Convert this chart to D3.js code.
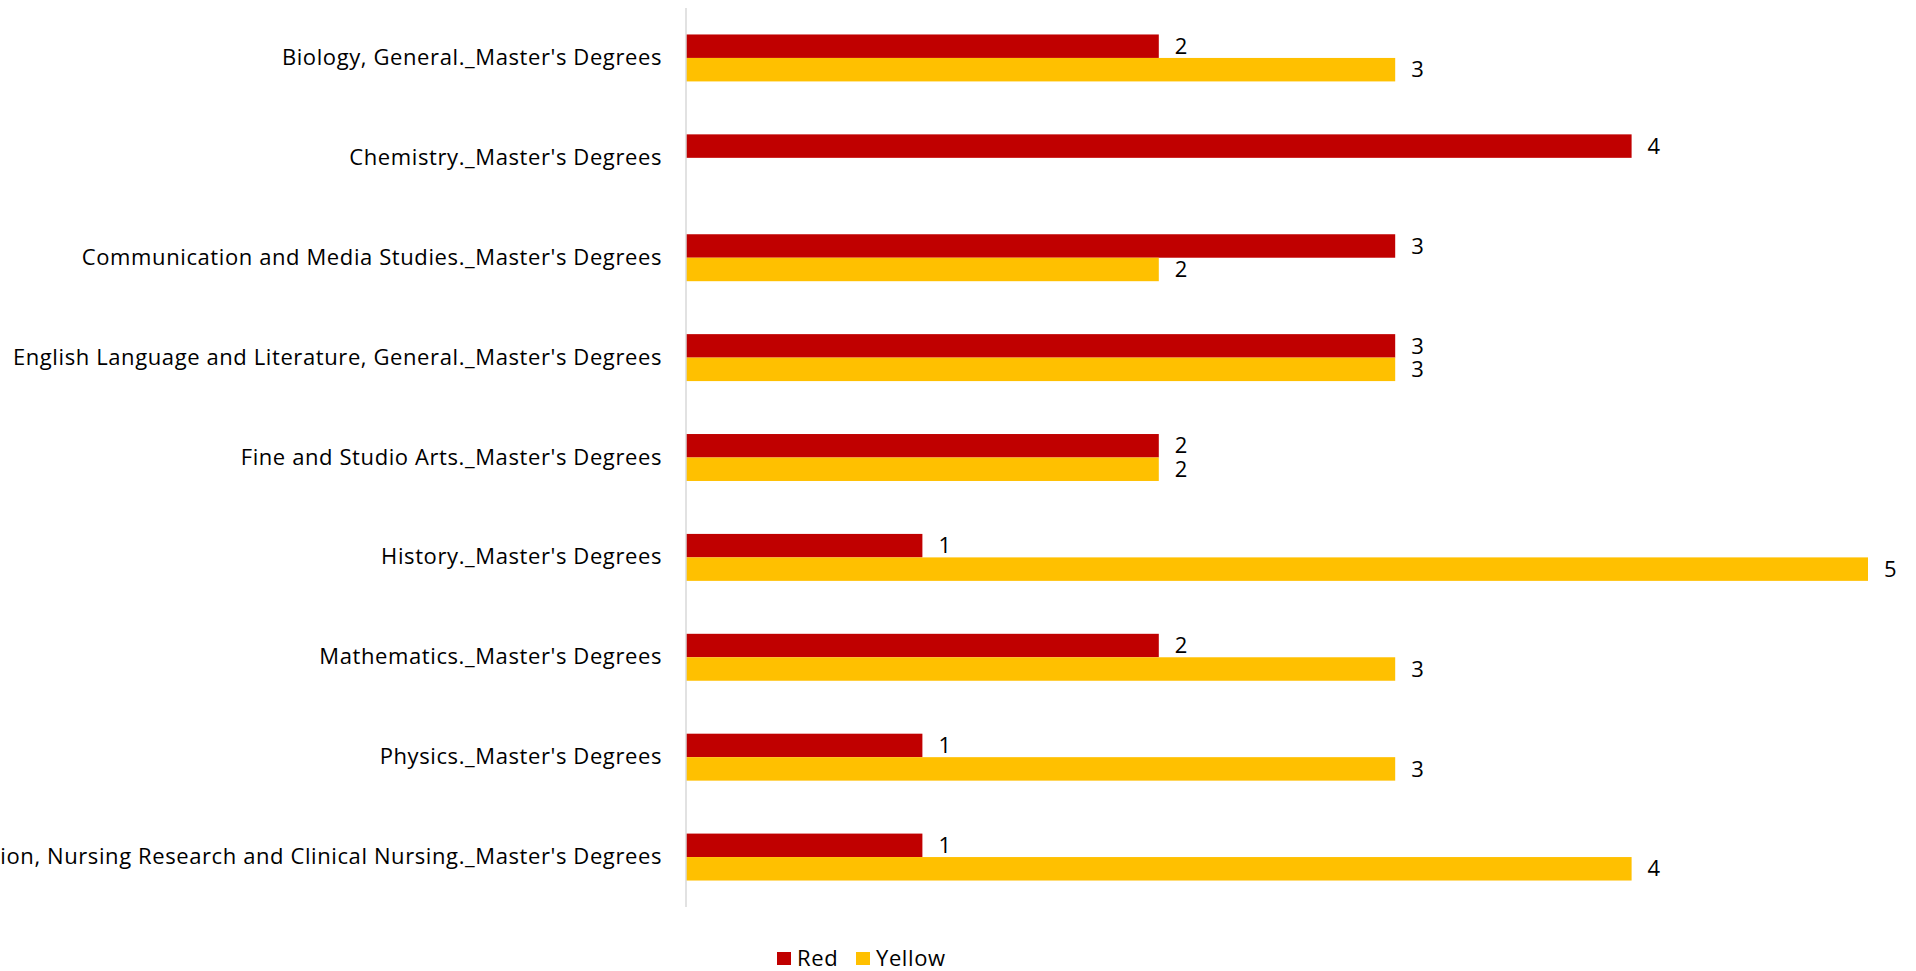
<!DOCTYPE html>
<html>
<head>
<meta charset="utf-8">
<script src="https://cdn.jsdelivr.net/npm/d3@7"></script>
<style>
  html, body { margin: 0; padding: 0; background: #fff; overflow: hidden; }
  svg { display: block; }
  text { font-family: "Open Sans", sans-serif; fill: #000; }
</style>
</head>
<body>
<svg id="chart" width="1916" height="971"></svg>
<script>
const categories = [
  "Biology, General._Master's Degrees",
  "Chemistry._Master's Degrees",
  "Communication and Media Studies._Master's Degrees",
  "English Language and Literature, General._Master's Degrees",
  "Fine and Studio Arts._Master's Degrees",
  "History._Master's Degrees",
  "Mathematics._Master's Degrees",
  "Physics._Master's Degrees",
  "Registered Nursing, Nursing Administration, Nursing Research and Clinical Nursing._Master's Degrees"
];
const seriesNames = ["Red", "Yellow"];
const redValues = [2, 4, 3, 3, 2, 1, 2, 1, 1];
const yellowValues = [3, null, 2, 3, 2, 5, 3, 3, 4];
const seriesColors = ["#C00000", "#FFC000"];

(function () {
const svg = d3.select("#chart");
const plotLeft = 686, plotRight = 1868, plotTop = 8, plotBottom = 907;
const fontSize = "22px";
const spacing = "0.6px";

const x = d3.scaleLinear().domain([0, 5]).range([plotLeft, plotRight]);
const y = d3.scaleBand().domain(categories).range([plotTop, plotBottom])
  .paddingInner(0.53).paddingOuter(0.265);
const y1 = d3.scaleBand().domain(seriesNames).range([0, y.bandwidth()]);

const rows = categories.map((c, i) => ({
  cat: c,
  vals: [
    { s: "Red", v: redValues[i], color: seriesColors[0] },
    { s: "Yellow", v: yellowValues[i], color: seriesColors[1] }
  ]
}));

const g = svg.append("g");
const groups = g.selectAll("g.cat").data(rows).join("g")
  .attr("class", "cat")
  .attr("transform", d => `translate(0,${y(d.cat)})`);

groups.selectAll("rect").data(d => d.vals.filter(e => e.v != null)).join("rect")
  .attr("x", x(0))
  .attr("y", d => y1(d.s))
  .attr("width", d => x(d.v) - x(0))
  .attr("height", y1.bandwidth())
  .attr("fill", d => d.color);

groups.selectAll("text.val").data(d => d.vals.filter(e => e.v != null)).join("text")
  .attr("class", "val")
  .attr("x", d => x(d.v) + 16)
  .attr("y", d => y1(d.s) + y1.bandwidth() / 2)
  .attr("dy", "0.35em")
  .style("font-size", fontSize)
  .text(d => d.v);

// Category axis
const yAxis = d3.axisLeft(y).tickSize(0).tickPadding(24);
const ag = svg.append("g").attr("transform", `translate(${plotLeft},0)`).call(yAxis);
ag.select(".domain").attr("stroke", "#D9D9D9").attr("stroke-width", 1.5)
  .attr("d", `M0,${plotTop}V${plotBottom}`);
ag.selectAll(".tick text")
  .style("font-size", fontSize)
  .style("letter-spacing", spacing)
  .style("font-family", "'Open Sans', sans-serif")
  .attr("fill", "#000");

// Legend
const legend = svg.append("g").attr("transform", "translate(777,952)");
const legendX = [0, 79];
seriesNames.forEach((s, i) => {
  const lg = legend.append("g").attr("transform", `translate(${legendX[i]},0)`);
  lg.append("rect").attr("width", 14).attr("height", 13).attr("fill", seriesColors[i]);
  lg.append("text").attr("x", 20).attr("y", 6.5).attr("dy", "0.35em")
    .style("font-size", fontSize).style("letter-spacing", spacing).text(s);
});
})();
</script>
</body>
</html>
